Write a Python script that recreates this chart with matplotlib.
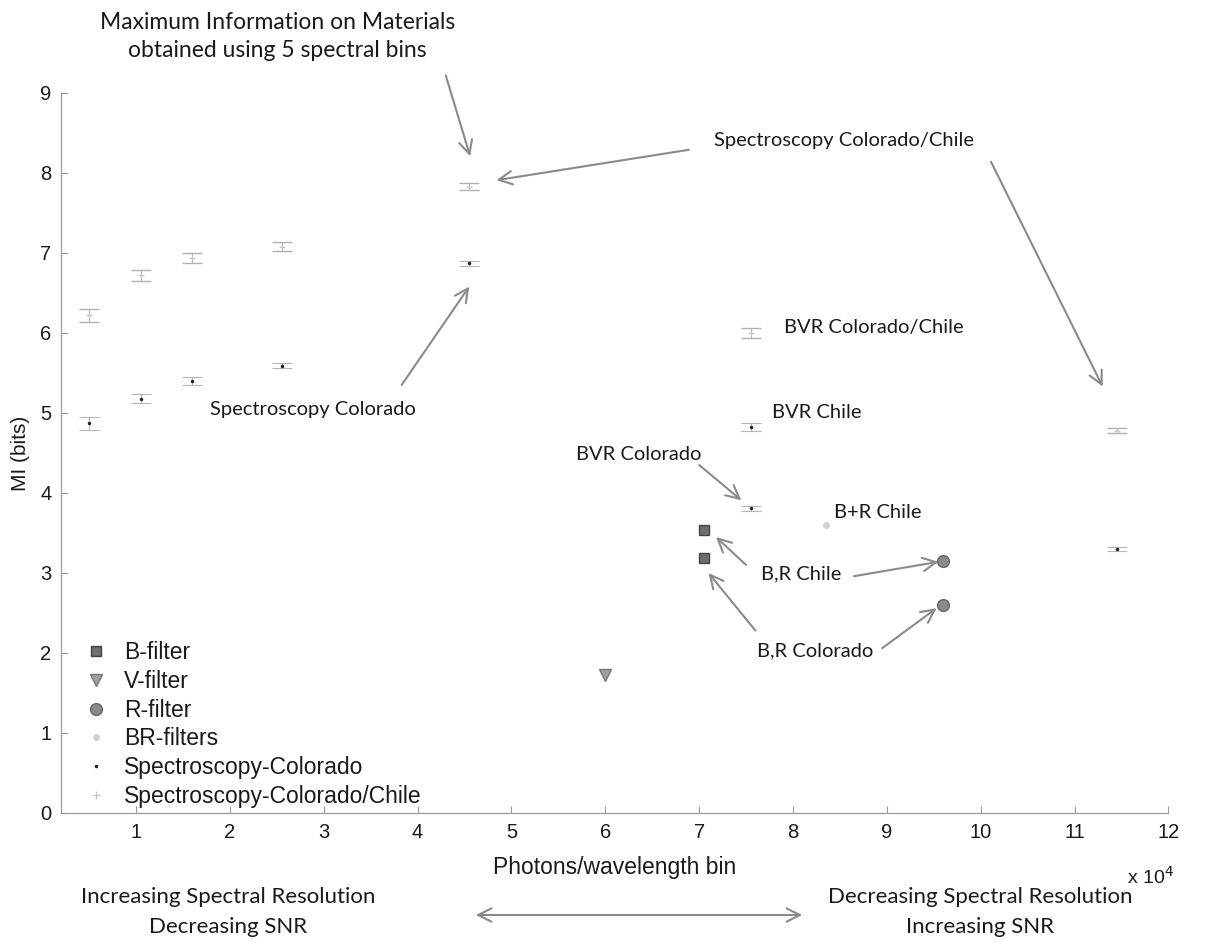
import numpy as np
import matplotlib
matplotlib.use('Agg')
import matplotlib.pyplot as plt
from matplotlib.lines import Line2D
from matplotlib.ticker import FuncFormatter

# spectroscopy points (photons per wavelength bin, MI in bits)
spec_cc_x = [0.5e4, 1.05e4, 1.6e4, 2.55e4, 4.55e4, 7.55e4, 11.45e4]
spec_cc_y = [6.22, 6.72, 6.94, 7.08, 7.83, 6.0, 4.78]
spec_cc_err = [0.08, 0.07, 0.06, 0.06, 0.04, 0.06, 0.03]

spec_co_x = [0.5e4, 1.05e4, 1.6e4, 2.55e4, 4.55e4, 7.55e4, 7.55e4, 11.45e4]
spec_co_y = [4.87, 5.18, 5.4, 5.59, 6.87, 4.83, 3.81, 3.3]
spec_co_err = [0.08, 0.06, 0.05, 0.03, 0.03, 0.05, 0.03, 0.02]

b_x = [7.05e4, 7.05e4]
b_y = [3.54, 3.19]
v_x = [6.0e4]
v_y = [1.72]
r_x = [9.6e4, 9.6e4]
r_y = [3.15, 2.6]
br_x = [8.35e4]
br_y = [3.6]

legend_labels = ['B-filter', 'V-filter', 'R-filter', 'BR-filters',
                 'Spectroscopy-Colorado', 'Spectroscopy-Colorado/Chile']

# annotations: text, text position, alignment, size
notes = [
    ('Maximum Information on Materials\nobtained using 5 spectral bins', (2.51e4, 9.71), 'center', 16.5),
    ('Spectroscopy Colorado/Chile', (8.54e4, 8.4), 'center', 14.5),
    ('Spectroscopy Colorado', (2.88e4, 5.04), 'center', 14.5),
    ('BVR Colorado/Chile', (7.9e4, 6.07), 'left', 14.5),
    ('BVR Chile', (7.78e4, 5.01), 'left', 14.5),
    ('BVR Colorado', (6.36e4, 4.48), 'center', 14.5),
    ('B+R Chile', (8.44e4, 3.76), 'left', 14.5),
    ('B,R Chile', (7.66e4, 2.99), 'left', 14.5),
    ('B,R Colorado', (7.62e4, 2.03), 'left', 14.5),
]
# arrows: start -> tip
arrows = [
    ((4.30e4, 9.22), (4.56e4, 8.21)),
    ((6.89e4, 8.29), (4.84e4, 7.91)),
    ((10.11e4, 8.14), (11.30e4, 5.33)),
    ((3.83e4, 5.35), (4.55e4, 6.58)),
    ((7.0e4, 4.35), (7.45e4, 3.91)),
    ((7.5e4, 3.1), (7.18e4, 3.45)),
    ((8.65e4, 2.96), (9.55e4, 3.14)),
    ((7.6e4, 2.28), (7.1e4, 3.0)),
    ((8.95e4, 2.06), (9.53e4, 2.56)),
]

note_font = ['Lato', 'DejaVu Sans']
plt.rcParams['font.family'] = ['Liberation Sans', 'DejaVu Sans']

fig = plt.figure(figsize=(12.05, 9.47), dpi=100)
ax = fig.add_axes([0.0506, 0.1415, 0.919, 0.7603])

b_style = dict(marker='s', color='#6e6e6e', mec='#444444', ms=6.5, ls='none')
v_style = dict(marker='v', color='#a0a0a0', mec='#777777', ms=9, ls='none')
r_style = dict(marker='o', color='#8a8a8a', mec='#666666', ms=8.5, ls='none')
br_style = dict(marker='o', color='#d0d0d0', mec='#d0d0d0', ms=4, ls='none')
co_style = dict(marker='.', color='#222222', ms=3, ls='none')
cc_style = dict(marker='+', color='#c8c8c8', ms=6, ls='none')

ax.plot(b_x, b_y, **b_style)
ax.plot(v_x, v_y, **v_style)
ax.plot(r_x, r_y, **r_style)
ax.plot(br_x, br_y, **br_style)
ax.errorbar(spec_co_x, spec_co_y, yerr=spec_co_err, fmt='.', color='#222222', ms=3,
            ecolor='#b5b5b5', elinewidth=0.8, capsize=7, capthick=0.8)
ax.errorbar(spec_cc_x, spec_cc_y, yerr=spec_cc_err, fmt='+', color='#c8c8c8', ms=5,
            ecolor='#b0b0b0', elinewidth=0.8, capsize=7.5, capthick=1.0)

ax.set_xlim(0.2e4, 12e4)
ax.set_ylim(0, 9)
ax.set_xticks(np.arange(1, 13) * 1e4)
ax.set_yticks(np.arange(0, 10))
ax.xaxis.set_major_formatter(FuncFormatter(lambda v, p: '%d' % round(v / 1e4)))
ax.tick_params(direction='in', length=5, width=0.8, color='#999999',
               labelsize=14.5, labelcolor='#1a1a1a', pad=7)
for side in ['top', 'right']:
    ax.spines[side].set_visible(False)
for side in ['left', 'bottom']:
    ax.spines[side].set_color('#9a9a9a')
    ax.spines[side].set_linewidth(0.9)

ax.set_xlabel('Photons/wavelength bin', fontsize=16.5, color='#1a1a1a', labelpad=10)
ax.set_ylabel('MI (bits)', fontsize=15, color='#1a1a1a', labelpad=7)
fig.text(1150 / 1205, 1 - 877 / 947, 'x 10$^4$', fontsize=14, color='#1a1a1a',
         ha='center', va='center')

handles = [Line2D([], [], **s) for s in
           [b_style, v_style, r_style, br_style, co_style, cc_style]]
leg = ax.legend(handles, legend_labels, loc='lower left', bbox_to_anchor=(0.003, -0.015),
                frameon=False, fontsize=16.5, handletextpad=0.5, labelspacing=0.25,
                borderaxespad=0.3, numpoints=1, handlelength=1.4)
for t in leg.get_texts():
    t.set_color('#1a1a1a')

for txt, pos, ha, size in notes:
    ax.text(pos[0], pos[1], txt, ha=ha, va='center', fontsize=size, family=note_font,
            color='#1a1a1a', linespacing=1.4, clip_on=False)

for start, tip in arrows:
    ax.annotate('', xy=tip, xytext=start, annotation_clip=False,
                arrowprops=dict(arrowstyle='->', color='#8a8a8a', lw=1.5,
                                mutation_scale=24, shrinkA=0, shrinkB=0))

# bottom explanatory notes
fig.text(228 / 1205, 1 - 912 / 947, 'Increasing Spectral Resolution\nDecreasing SNR',
         ha='center', va='center', fontsize=16, family=note_font, color='#1a1a1a',
         linespacing=1.6)
fig.text(980 / 1205, 1 - 912 / 947, 'Decreasing Spectral Resolution\nIncreasing SNR',
         ha='center', va='center', fontsize=16, family=note_font, color='#1a1a1a',
         linespacing=1.6)
fig.add_artist(matplotlib.patches.FancyArrowPatch(
    (473 / 1205, 1 - 915 / 947), (805 / 1205, 1 - 915 / 947), transform=fig.transFigure,
    arrowstyle='<->', color='#8a8a8a', lw=1.5, mutation_scale=24))

fig.savefig('out.png', dpi=100)
